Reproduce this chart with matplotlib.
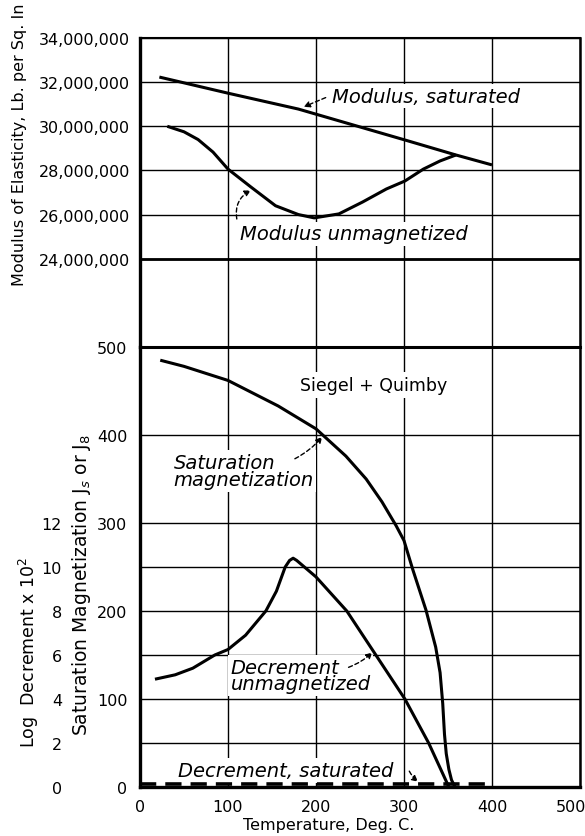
import numpy as np
import matplotlib.pyplot as plt
from matplotlib.ticker import FuncFormatter
from matplotlib.transforms import ScaledTranslation

# Modulus of elasticity, lb per sq in
mod_sat_temp = [22, 100, 180, 301, 359, 400]
mod_sat = [32.23e6, 31.5e6, 30.78e6, 29.38e6, 28.7e6, 28.25e6]
mod_unmag_temp = [31, 50, 66, 83, 100, 126, 154, 180, 198, 226, 253, 280, 301, 322, 341, 359]
mod_unmag = [30.0e6, 29.75e6, 29.4e6, 28.83e6, 28.06e6, 27.25e6, 26.4e6, 26.0e6, 25.85e6,
             26.03e6, 26.57e6, 27.16e6, 27.52e6, 28.06e6, 28.43e6, 28.7e6]

# Saturation magnetization
sat_temp = [23, 50, 100, 157, 200, 234, 257, 275, 291, 300, 310, 325, 336, 341, 344, 346, 348, 351, 354, 358]
sat_mag = [485, 478, 462, 433, 407, 376, 350, 324, 297, 280, 247, 201, 159, 130, 95, 60, 38, 20, 8, 0]

# Log decrement x 10^2
dec_temp = [17, 40, 60, 85, 100, 120, 143, 155, 165, 170, 174, 178, 200, 235, 268, 301, 328, 351]
dec_unmag = [4.9, 5.1, 5.4, 6.0, 6.25, 6.9, 8.0, 8.9, 10.0, 10.3, 10.4, 10.3, 9.55, 8.0, 6.0, 4.0, 2.0, 0.0]
dec_sat_temp = [0, 400]
dec_sat = [0.15, 0.15]

temp_ticks = [0, 100, 200, 300, 400, 500]
mod_ticks = [24e6, 26e6, 28e6, 30e6, 32e6, 34e6]
mag_ticks = [0, 100, 200, 300, 400, 500]
dec_ticks = [0, 2, 4, 6, 8, 10, 12]

W, H = 585, 837
fig = plt.figure(figsize=(W / 100, H / 100), dpi=100)
left, right = 140 / W, 580 / W
ax_top = fig.add_axes([left, 1 - 348 / H, right - left, (348 - 39) / H])
ax_low = fig.add_axes([left, 1 - 788 / H, right - left, (788 - 348) / H])

curve = dict(color='black', lw=2.2, zorder=5, solid_capstyle='butt')
italic = dict(fontsize=14, style='italic', zorder=3,
              bbox=dict(fc='white', ec='none', pad=2))


def dashed_arrow(ax, tail, head, rad=0.0):
    ax.annotate('', xy=head, xytext=tail, zorder=6,
                arrowprops=dict(arrowstyle='-|>', color='black', lw=1.0,
                                linestyle=(0, (3, 2)), mutation_scale=9,
                                shrinkA=0, shrinkB=0,
                                connectionstyle=f'arc3,rad={rad}'))


for ax in (ax_top, ax_low):
    ax.set_xlim(0, 500)
    ax.set_xticks(temp_ticks)
    ax.set_axisbelow(True)
    ax.grid(True, color='black', lw=1.0)
    ax.tick_params(length=0, labelsize=11.5)
    ax.spines['left'].set_linewidth(2.4)
    ax.spines['right'].set_linewidth(1.8)

# upper panel: modulus
ax_top.set_ylim(20e6, 34e6)
ax_top.set_yticks(mod_ticks)
ax_top.yaxis.set_major_formatter(FuncFormatter(lambda v, p: f'{int(v):,}'))
ax_top.tick_params(axis='y', pad=7)
ax_top.tick_params(axis='x', labelbottom=False)
ax_top.axhline(24e6, color='black', lw=2.0)
ax_top.spines['top'].set_linewidth(1.5)
ax_top.spines['bottom'].set_visible(False)

ax_top.plot(mod_sat_temp, mod_sat, **curve)
ax_top.plot(mod_unmag_temp, mod_unmag, **curve)

ax_top.text(218, 31.37e6, 'Modulus, saturated', ha='left', va='center', **italic)
dashed_arrow(ax_top, (211, 31.3e6), (186, 30.88e6))
ax_top.text(114, 25.12e6, 'Modulus unmagnetized', ha='left', va='center', **italic)
dashed_arrow(ax_top, (110, 25.8e6), (126, 27.1e6), rad=-0.35)

# lower panel: magnetization and decrement
ax_low.set_ylim(0, 500)
ax_low.set_yticks(mag_ticks)
ax_low.set_yticks([50, 150, 250], minor=True)
ax_low.grid(True, which='minor', axis='y', color='black', lw=1.0)
ax_low.tick_params(which='both', length=0)
ax_low.tick_params(axis='y', pad=9)
ax_low.tick_params(axis='x', pad=9)
ax_low.spines['top'].set_linewidth(2.2)
ax_low.spines['bottom'].set_linewidth(2.4)
# keep the last temperature label inside the frame
last = ax_low.get_xticklabels()[-1]
last.set_transform(last.get_transform() + ScaledTranslation(-9 / 100, 0, fig.dpi_scale_trans))

ax_low.plot(sat_temp, sat_mag, **curve)

ax_dec = ax_low.twinx()
ax_dec.set_ylim(0, 20)
ax_dec.set_yticks(dec_ticks)
ax_dec.yaxis.tick_left()
ax_dec.spines['left'].set_position(('axes', -0.168))
for s in ax_dec.spines.values():
    s.set_visible(False)
ax_dec.tick_params(length=0, labelsize=11.5, pad=3)
ax_dec.plot(dec_temp, dec_unmag, **curve)
ax_dec.plot(dec_sat_temp, dec_sat, color='black', lw=2.6, dashes=(4.5, 2.5), zorder=5)

ax_low.text(182, 457, 'Siegel + Quimby', ha='left', va='center', fontsize=12.5,
            zorder=3, bbox=dict(fc='white', ec='none', pad=3))
ax_low.text(38, 359, 'Saturation\nmagnetization', ha='left', va='center',
            linespacing=0.9, **italic)
dashed_arrow(ax_low, (176, 373), (207, 398), rad=0.1)
ax_low.text(103, 127, 'Decrement\nunmagnetized', ha='left', va='center',
            linespacing=0.82, **italic)
dashed_arrow(ax_low, (237, 136), (264, 153), rad=0.1)
ax_low.text(43, 19, 'Decrement, saturated', ha='left', va='center', **italic)
dashed_arrow(ax_low, (306, 18), (316, 6), rad=0.1)

# axis titles
fig.text(20 / W, 1 - 145 / H, 'Modulus of Elasticity, Lb. per Sq. In', rotation=90,
         ha='center', va='center', fontsize=11.5)
fig.text(29 / W, 1 - 652 / H, 'Log  Decrement x 10$^2$', rotation=90,
         ha='center', va='center', fontsize=12.5)
fig.text(82 / W, 1 - 585 / H, 'Saturation Magnetization J$_s$ or J$_8$', rotation=90,
         ha='center', va='center', fontsize=13.5)
fig.text(329 / W, 1 - 826 / H, 'Temperature, Deg. C.', ha='center', va='center',
         fontsize=11.5)

fig.savefig('out.png', dpi=100)
